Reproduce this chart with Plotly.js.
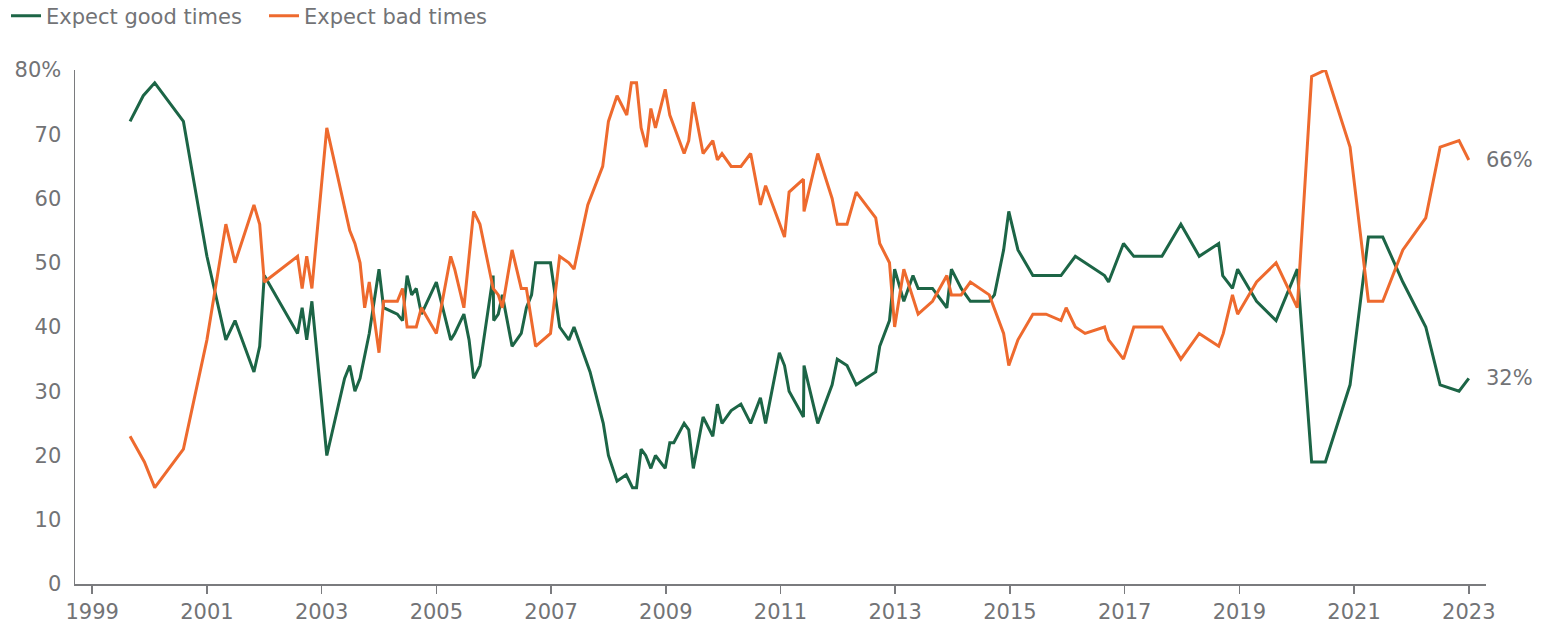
<!DOCTYPE html>
<html>
<head>
<meta charset="utf-8">
<script src="https://cdn.plot.ly/plotly-3.0.1.min.js"></script>
<style>html,body{margin:0;padding:0;background:#fff;}#chart{width:1542px;height:632px;}</style>
</head>
<body>
<div id="chart"></div>
<script>
// Survey dates (decimal years) and shares (%)
const goodDates = [1999.66,1999.89,2000.09,2000.59,2001.00,2001.33,2001.49,2001.82,2001.92,2002.00,2002.58,2002.66,2002.74,2002.83,2003.09,2003.40,2003.49,2003.58,2003.67,2003.76,2003.83,2004.00,2004.08,2004.32,2004.41,2004.49,2004.57,2004.65,2004.74,2005.00,2005.25,2005.32,2005.48,2005.57,2005.65,2005.76,2005.99,2006.00,2006.08,2006.15,2006.32,2006.48,2006.57,2006.66,2006.73,2006.99,2007.15,2007.31,2007.40,2007.68,2007.91,2008.00,2008.15,2008.31,2008.42,2008.49,2008.57,2008.65,2008.74,2008.82,2008.99,2009.07,2009.14,2009.32,2009.40,2009.48,2009.65,2009.82,2009.90,2009.98,2010.14,2010.31,2010.48,2010.65,2010.74,2010.98,2011.07,2011.15,2011.40,2011.41,2011.65,2011.90,2011.99,2012.16,2012.32,2012.66,2012.73,2012.90,2012.99,2013.15,2013.31,2013.40,2013.65,2013.90,2013.98,2014.15,2014.31,2014.64,2014.73,2014.89,2014.98,2015.14,2015.40,2015.89,2016.14,2016.65,2016.72,2016.98,2017.16,2017.65,2017.98,2018.30,2018.64,2018.71,2018.88,2018.97,2019.30,2019.64,2020.01,2020.26,2020.50,2020.93,2021.25,2021.50,2021.85,2022.25,2022.50,2022.83,2023.00];
const goodValues = [72,76,78,72,51,38,41,33,37,48,39,43,38,44,20,32,34,30,32,36,39,49,43,42,41,48,45,46,42,47,38,39,42,38,32,34,48,41,42,45,37,39,43,45,50,50,40,38,40,33,25,20,16,17,15,15,21,20,18,20,18,22,22,25,24,18,26,23,28,25,27,28,25,29,25,36,34,30,26,34,25,31,35,34,31,33,37,41,49,44,48,46,46,43,49,46,44,44,45,52,58,52,48,48,51,48,47,53,51,51,56,51,53,48,46,49,44,41,49,19,19,31,54,54,47,40,31,30,32];

const badDates = [1999.66,1999.91,2000.09,2000.59,2001.00,2001.33,2001.49,2001.82,2001.92,2002.00,2002.58,2002.66,2002.74,2002.83,2003.09,2003.40,2003.49,2003.58,2003.67,2003.75,2003.83,2004.00,2004.08,2004.32,2004.41,2004.49,2004.65,2004.74,2005.00,2005.25,2005.32,2005.48,2005.65,2005.76,2005.99,2006.08,2006.15,2006.32,2006.48,2006.57,2006.73,2006.99,2007.15,2007.31,2007.40,2007.64,2007.90,2008.00,2008.15,2008.32,2008.40,2008.49,2008.57,2008.66,2008.74,2008.82,2008.99,2009.07,2009.32,2009.40,2009.48,2009.65,2009.82,2009.90,2009.98,2010.14,2010.31,2010.48,2010.65,2010.74,2011.07,2011.15,2011.40,2011.41,2011.65,2011.90,2011.99,2012.16,2012.32,2012.66,2012.73,2012.90,2012.99,2013.15,2013.40,2013.65,2013.90,2013.98,2014.15,2014.31,2014.64,2014.89,2014.98,2015.14,2015.40,2015.63,2015.89,2015.98,2016.14,2016.31,2016.65,2016.72,2016.98,2017.16,2017.65,2017.98,2018.30,2018.64,2018.72,2018.88,2018.97,2019.30,2019.64,2020.01,2020.26,2020.50,2020.93,2021.25,2021.50,2021.85,2022.25,2022.50,2022.83,2023.00];
const badValues = [23,19,15,21,38,56,50,59,56,47,51,46,51,46,71,59,55,53,50,43,47,36,44,44,46,40,40,43,39,51,49,43,58,56,46,45,43,52,46,46,37,39,51,50,49,59,65,72,76,73,78,78,71,68,74,71,77,73,67,69,75,67,69,66,67,65,65,67,59,62,54,61,63,58,67,60,56,56,61,57,53,50,40,49,42,44,48,45,45,47,45,39,34,38,42,42,41,43,40,39,40,38,35,40,40,35,39,37,39,45,42,47,50,43,79,80,68,44,44,52,57,68,69,66];

const seriesNames = ["Expect good times", "Expect bad times"];
const xTickVals = [1999,2001,2003,2005,2007,2009,2011,2013,2015,2017,2019,2021,2023];
const yTickVals = [0,10,20,30,40,50,60,70,80];
const yTickText = ["0","10","20","30","40","50","60","70","80%"];

const GREEN = "#1c6546";
const ORANGE = "#ee6a2e";
const GREY = "#727376";
const FONT = "'DejaVu Sans', sans-serif";
const FS = 21;

const traces = [
  {x: goodDates, y: goodValues, name: seriesNames[0], type: "scatter", mode: "lines",
   line: {color: GREEN, width: 3}},
  {x: badDates, y: badValues, name: seriesNames[1], type: "scatter", mode: "lines",
   line: {color: ORANGE, width: 3}}
];

const lastGood = goodValues[goodValues.length-1];
const lastBad = badValues[badValues.length-1];
const lastDate = goodDates[goodDates.length-1];

const layout = {
  width: 1542, height: 632,
  margin: {l: 75, r: 56, t: 70, b: 48},
  paper_bgcolor: "#fff", plot_bgcolor: "#fff",
  font: {family: FONT, size: FS, color: GREY},
  showlegend: true,
  legend: {orientation: "h", xref: "container", yref: "container", x: 0.0039, xanchor: "left",
           y: 0.9747, yanchor: "middle", entrywidth: 213, entrywidthmode: "pixels",
           font: {family: FONT, size: FS, color: GREY}, itemwidth: 30, tracegroupgap: 0,
           bgcolor: "rgba(0,0,0,0)"},
  xaxis: {range: [1998.70, 2023.30], tickvals: xTickVals, ticks: "outside", ticklen: 8,
          tickcolor: "#7a7b7e", tickwidth: 1.5, showline: true, linecolor: "#7a7b7e", linewidth: 1.5,
          showgrid: false, zeroline: false, tickfont: {family: FONT, size: FS, color: GREY}, fixedrange: true},
  yaxis: {range: [0, 80], tickvals: yTickVals, ticktext: yTickText, ticks: "", showline: true,
          linecolor: "#7a7b7e", linewidth: 1.5, showgrid: false, zeroline: false,
          ticklabelstandoff: 8, tickfont: {family: FONT, size: FS, color: GREY}, fixedrange: true},
  annotations: [
    {x: lastDate, y: lastBad, xref: "x", yref: "y", text: lastBad + "%", showarrow: false,
     xanchor: "left", xshift: 15, font: {family: FONT, size: FS, color: GREY}},
    {x: lastDate, y: lastGood, xref: "x", yref: "y", text: lastGood + "%", showarrow: false,
     xanchor: "left", xshift: 15, font: {family: FONT, size: FS, color: GREY}}
  ]
};

Plotly.newPlot("chart", traces, layout, {displayModeBar: false, staticPlot: true});
</script>
</body>
</html>
